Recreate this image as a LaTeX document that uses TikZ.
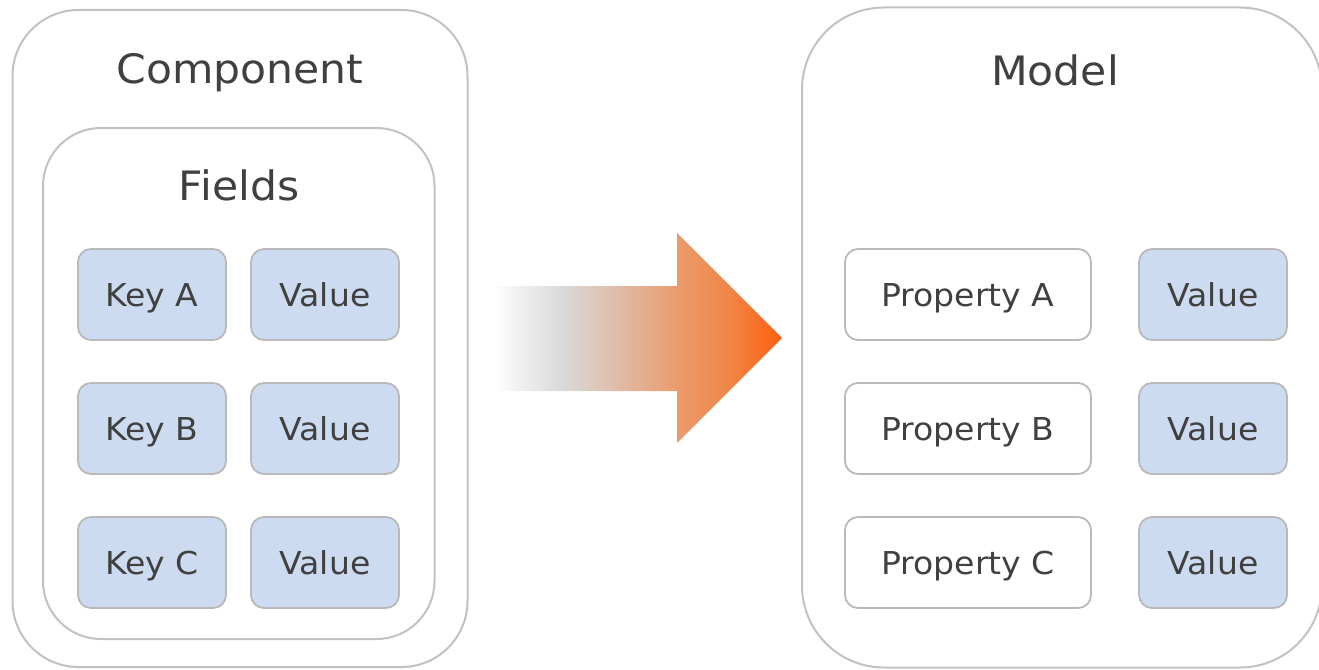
\documentclass[tikz,border=0pt]{standalone}
\usepackage{fontspec}
\setmainfont[FakeStretch=1.05]{DejaVu Sans}
\definecolor{txt}{HTML}{404040}
\definecolor{boxfill}{HTML}{CCDBEF}
\definecolor{boxline}{HTML}{B9B9B9}
\definecolor{outline}{HTML}{C2C2C2}
\definecolor{sA}{HTML}{F2F2F2}
\definecolor{sB}{HTML}{D9D9D9}
\definecolor{sC}{HTML}{DFBBA6}
\definecolor{sD}{HTML}{EB9B6C}
\definecolor{sE}{HTML}{F08546}
\definecolor{sF}{HTML}{FF5F0F}
\pgfdeclarehorizontalshading{arrowshade}{100bp}{color(0bp)=(white); color(25bp)=(white); color(29bp)=(sA); color(37bp)=(sB); color(47bp)=(sC); color(57bp)=(sD); color(66bp)=(sE); color(75bp)=(sF); color(100bp)=(sF)}
\begin{document}
\begin{tikzpicture}[x=1pt,y=-1pt,
  container/.style={draw=outline, line width=2pt, rounded corners=#1, inner sep=0pt},
  title/.style={text=txt, font=\fontsize{40.5}{49}\selectfont, anchor=base, inner sep=0pt},
  cell/.style={draw=boxline, line width=1.8pt, rounded corners=13pt, fill=#1,
    minimum height=91pt, text=txt, font=\fontsize{31.5}{36}\selectfont,
    text height=23pt, text depth=0pt, inner sep=0pt},
  keycell/.style={cell=boxfill, minimum width=148pt},
  valcell/.style={cell=boxfill, minimum width=148pt},
  propcell/.style={cell=white, minimum width=246pt}]
\useasboundingbox (0,0) rectangle (1319,669);

% containers
\node[container=66pt, minimum width=455pt, minimum height=657pt] (comp) at (240,338.5) {};
\node[container=58pt, minimum width=391.5pt, minimum height=511pt] (fields) at (238.75,383.5) {};
\node[container=82pt, minimum width=520pt, minimum height=660pt] (model) at (1062,337.5) {};

% titles
\node[title] (comptitle) at (240,83.5) {Component};
\node[title] (fieldstitle) at (239,200) {Fields};
\node[title] (modeltitle) at (1055,85) {Model};

% fields cells
\node[keycell] (ka) at (152,294.5) {Key A};
\node[valcell] (va) at (325,294.5) {Value};
\node[keycell] (kb) at (152,428.5) {Key B};
\node[valcell] (vb) at (325,428.5) {Value};
\node[keycell] (kc) at (152,562.5) {Key C};
\node[valcell] (vc) at (325,562.5) {Value};

% model cells
\node[propcell] (pa) at (968,294.5) {Property A};
\node[valcell] (mva) at (1213,294.5) {Value};
\node[propcell] (pb) at (968,428.5) {Property B};
\node[valcell] (mvb) at (1213,428.5) {Value};
\node[propcell] (pc) at (968,562.5) {Property C};
\node[valcell] (mvc) at (1213,562.5) {Value};

% gradient arrow
\shade[shading=arrowshade] (493,286) -- (677,286) -- (677,233) -- (782,338) -- (677,443) -- (677,391) -- (493,391) -- cycle;
\end{tikzpicture}
\end{document}
